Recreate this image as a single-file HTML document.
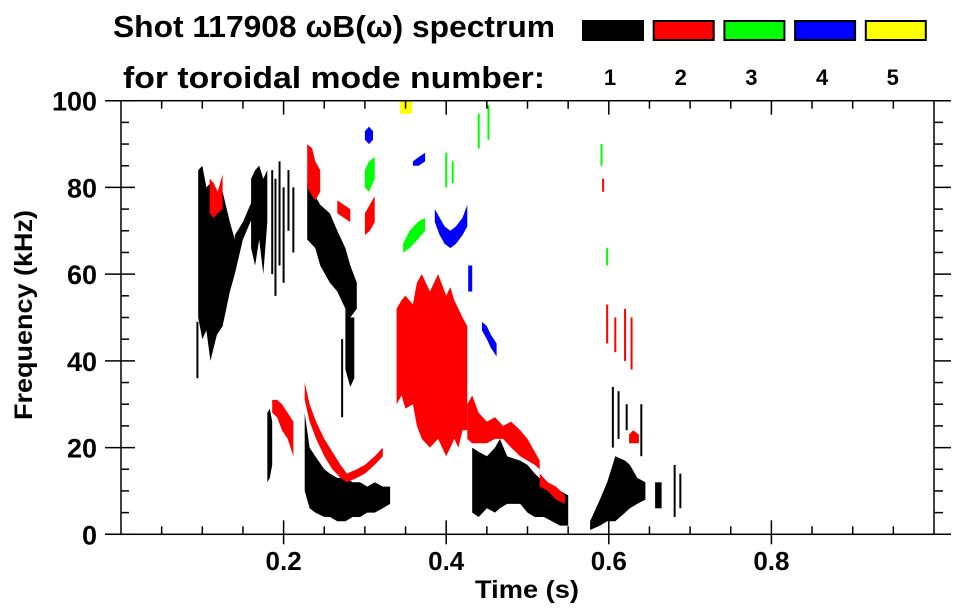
<!DOCTYPE html>
<html><head><meta charset="utf-8">
<style>
html,body{margin:0;padding:0;background:#fff;}
svg{display:block;font-family:"Liberation Sans",sans-serif;font-weight:bold;}
</style></head>
<body>
<svg id="chart" width="963" height="615" viewBox="0 0 963 615" xmlns="http://www.w3.org/2000/svg">
<text x="113" y="37" font-size="31" textLength="442" lengthAdjust="spacingAndGlyphs">Shot 117908 ωB(ω) spectrum</text>
<text x="123" y="88" font-size="31" textLength="422" lengthAdjust="spacingAndGlyphs">for toroidal mode number:</text>
<g id="legend"></g>
<g id="marks"></g>
<g id="axes"></g>
<text x="475" y="598" font-size="25" textLength="104" lengthAdjust="spacingAndGlyphs">Time (s)</text>
<text transform="translate(32,420) rotate(-90)" font-size="25" textLength="210" lengthAdjust="spacingAndGlyphs">Frequency (kHz)</text>
</svg>
<script>
const modeLabels = ["1","2","3","4","5"];
const modeColors = ["#000000","#ff0000","#00ff00","#0000ff","#ffff00"];
const xTicks = [0.2,0.4,0.6,0.8];
const yTicks = [0,20,40,60,80,100];

// blobs: mode index, time (s), lower freq (kHz), upper freq (kHz)
const blobMode = [0,0,0,0,0,0,0,0,0,0, 1,1,1,1,1,1,1,1,1,1, 2,2, 3,3,3,3,3, 4];
const blobT = [
 [.095,.100,.105,.110,.118,.125,.134,.140,.150],
 [.140,.150,.159,.170],
 [.160,.165,.170,.175,.180],
 [.229,.239,.245,.257,.266,.276,.282,.290],
 [.276,.282,.287],
 [.226,.232,.239,.250,.257,.266,.276,.285,.294,.303,.312,.322,.331],
 [.180,.183,.186],
 [.432,.440,.450,.460,.466,.475,.491,.500,.509,.520,.530,.540,.550],
 [.577,.589,.598,.608,.620,.626,.635,.645],
 [.657,.665],
 [.109,.114,.119,.125],
 [.229,.235,.239,.245],
 [.266,.274,.282],
 [.300,.306,.312],
 [.186,.192,.198,.205,.212],
 [.226,.232,.240,.250,.260,.270,.278,.290,.300,.312,.322],
 [.339,.345,.350,.359,.364,.370,.380,.390,.400,.405,.410,.415,.420,.426],
 [.426,.432,.440,.450,.460,.470,.480,.491,.500,.509,.515],
 [.515,.525,.535,.546],
 [.625,.630,.637],
 [.300,.305,.312],
 [.347,.355,.365,.374],
 [.386,.392,.398,.405,.412,.420,.426],
 [.359,.366,.374],
 [.300,.305,.310],
 [.427,.432],
 [.444,.450,.455,.462],
 [.343,.350,.358]
];
const blobLo = [
 [50,45,47,40,46,48,56,60,68],
 [66,68,72,76],
 [66,62,68,60,72],
 [68,66,62,58,56,52,50,52],
 [38,34,36],
 [10,6,5,4,4,3,3,4,4,5,5,6,7],
 [12,13,16],
 [5,4,6,5,6,7,7,5,4,4,3,2,2],
 [1,2,3,3,5,6,7,8],
 [6,6],
 [74,73,74,75],
 [80,78,77,79],
 [74,73,72],
 [69,70,72],
 [28,27,24,22,18],
 [31,26,22,18,15,13,12,13,14,16,18],
 [30,32,29,30,25,22,20,22,18,20,22,20,24,24],
 [22,21,21,21,22,22,20,18,17,16,15],
 [11,10,8,7],
 [21,21,21],
 [80,79,82],
 [65,66,68,70],
 [72,69,67,66,67,69,71],
 [85,85,86],
 [91,90,91],
 [56,56],
 [47,45,43,41],
 [97,97,97]
];
const blobHi = [
 [84,85,80,81,78,79,72,68,72],
 [69,72,76,80],
 [82,84,85,82,84],
 [81,78,76,74,70,66,62,58],
 [52,50,50],
 [28,20,18,15,14,13,13,12,12,11,12,11,11],
 [28,29,26],
 [20,19,18,20,22,18,17,16,14,12,11,10,9],
 [3,8,12,18,17,16,13,12],
 [12,12],
 [82,81,79,83],
 [90,89,86,84],
 [77,76,75],
 [74,76,78],
 [31,31,30,28,26],
 [35,30,26,22,19,16,14,15,16,18,20],
 [52,54,55,53,58,60,56,60,55,57,54,52,50,48],
 [30,32,28,26,27,25,26,24,22,19,17],
 [14,12,11,9],
 [23,24,23],
 [84,86,87],
 [67,70,72,73],
 [75,73,71,70,71,73,76],
 [86,87,88],
 [93,94,93],
 [62,62],
 [49,48,46,44],
 [100,100,100]
];
// thin vertical streaks
const streakMode = [0,0,0,0,0,0,0,0,0,0,0,0,0,0,1,1,1,1,1,2,2,2,2,2,2];
const streakT  = [.094,.186,.190,.195,.200,.206,.212,.605,.612,.622,.640,.681,.688,.272, .598,.608,.620,.628,.593, .591,.598,.400,.408,.440,.452];
const streakLo = [36,60,55,62,58,70,65,20,22,24,18,4,6,27, 44,42,40,38,79, 85,62,80,81,89,91];
const streakHi = [49,84,82,86,80,84,80,34,33,30,30,16,14,45, 53,50,52,50,82, 90,66,88,86,97,99];

const X0=121, XS=813, Y0=534.3, YS=4.336;
const xs = t => X0 + XS*t;
const ys = f => Y0 - YS*f;
const NS="http://www.w3.org/2000/svg";
const marks=document.getElementById('marks');
const axes=document.getElementById('axes');
const legend=document.getElementById('legend');

function mk(tag, attrs, parent){
  const e=document.createElementNS(NS,tag);
  for(const k in attrs) e.setAttribute(k,attrs[k]);
  parent.appendChild(e); return e;
}

for(let i=0;i<blobT.length;i++){
  const t=blobT[i], lo=blobLo[i], hi=blobHi[i];
  const pts=[];
  for(let j=0;j<t.length;j++) pts.push(xs(t[j]).toFixed(1)+","+ys(hi[j]).toFixed(1));
  for(let j=t.length-1;j>=0;j--) pts.push(xs(t[j]).toFixed(1)+","+ys(lo[j]).toFixed(1));
  const p=mk('polygon',{points:pts.join(' '),fill:modeColors[blobMode[i]]},marks);
  
  
}
for(let i=0;i<streakT.length;i++){
  const l=mk('line',{x1:xs(streakT[i]),x2:xs(streakT[i]),y1:ys(streakLo[i]),y2:ys(streakHi[i]),stroke:modeColors[streakMode[i]],'stroke-width':2},marks);
  
  
}

const L=xs(0), R=934, T=ys(100), B=ys(0);
mk('rect',{x:L,y:T,width:R-L,height:B-T,fill:'none',stroke:'#000','stroke-width':1.5},axes);
for(let f=0; f<=100; f+=5){
  const y=ys(f), major=(f%20===0);
  if(major){
    mk('line',{x1:L-16,x2:L+14,y1:y,y2:y,stroke:'#000','stroke-width':1.5},axes);
    mk('line',{x1:R,x2:R+17,y1:y,y2:y,stroke:'#000','stroke-width':1.5},axes);
  } else {
    mk('line',{x1:L,x2:L+8,y1:y,y2:y,stroke:'#000','stroke-width':1.5},axes);
    mk('line',{x1:R,x2:R+9,y1:y,y2:y,stroke:'#000','stroke-width':1.5},axes);
  }
}
for(const f of yTicks){
  const tx=mk('text',{x:L-24,y:ys(f)+10,'font-size':27,'text-anchor':'end'},axes);
  tx.textContent=String(f);
  
  
}
for(let k=1;k<20;k++){
  const t=k*0.05, x=xs(t), major=(k%4===0);
  if(major){
    mk('line',{x1:x,x2:x,y1:B-14,y2:B+10,stroke:'#000','stroke-width':1.5},axes);
    mk('line',{x1:x,x2:x,y1:T,y2:T+14,stroke:'#000','stroke-width':1.5},axes);
  } else {
    mk('line',{x1:x,x2:x,y1:B-8,y2:B,stroke:'#000','stroke-width':1.5},axes);
    mk('line',{x1:x,x2:x,y1:T,y2:T+8,stroke:'#000','stroke-width':1.5},axes);
  }
}
mk('line',{x1:105,x2:L,y1:B,y2:B,stroke:'#000','stroke-width':1.5},axes);
for(const t of xTicks){
  const tx=mk('text',{x:xs(t),y:570,'font-size':26,'text-anchor':'middle'},axes);
  tx.textContent=t.toFixed(1);
  
  
}

for(let i=0;i<modeLabels.length;i++){
  const cx=613+i*70.7;
  const r=mk('rect',{x:cx-30,y:21,width:60,height:19,fill:modeColors[i],stroke:'#000','stroke-width':2},legend);
  
  
  const tx=mk('text',{x:cx-3,y:85,'font-size':22,'text-anchor':'middle'},legend);
  tx.textContent=modeLabels[i];
  
  
}
</script>
</body></html>
